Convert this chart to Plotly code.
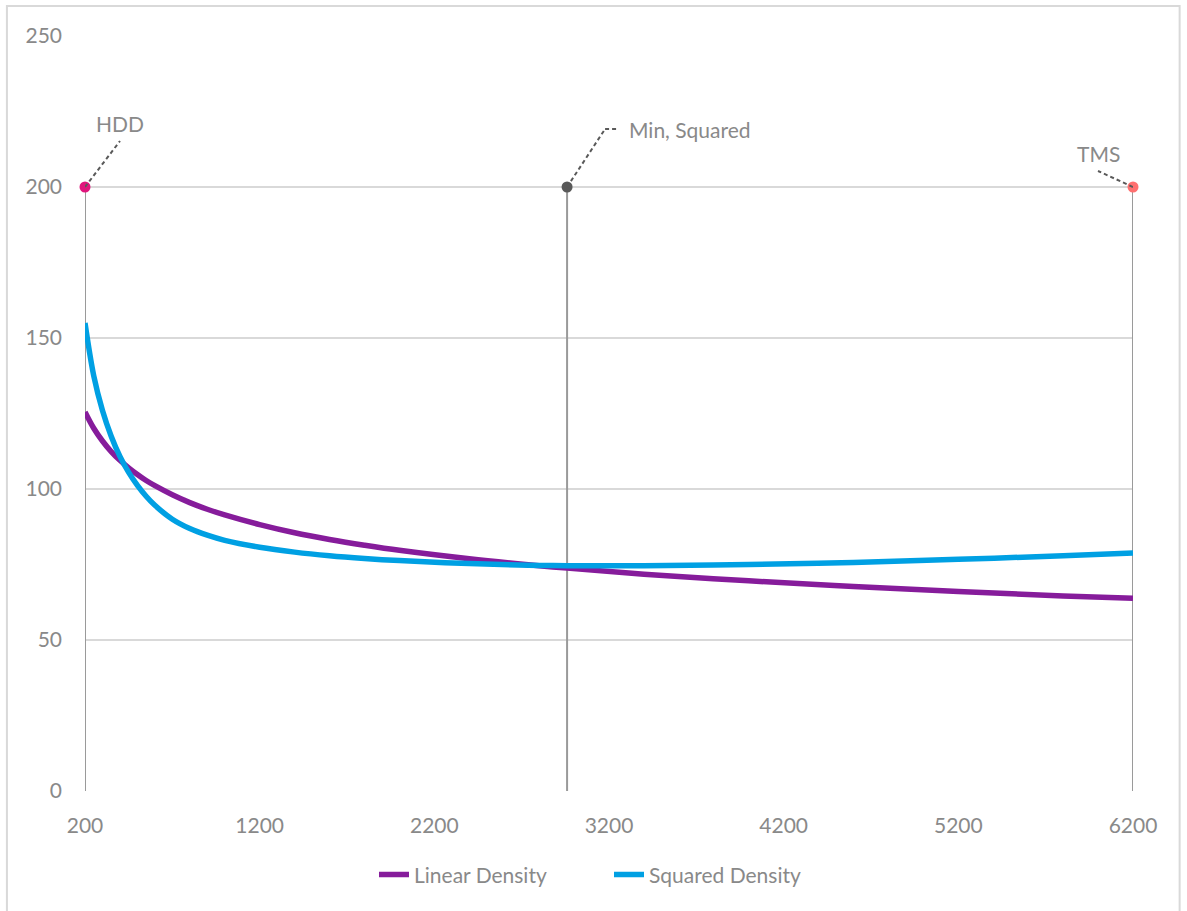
import plotly.graph_objects as go

# Curve samples
x_vals = [200, 250, 300, 350, 400, 450, 500, 550, 600, 700, 800, 900, 1000, 1200,
          1400, 1600, 1800, 2000, 2400, 2800, 2960, 3400, 4000, 4600, 5200, 5800, 6200]
linear_density = [125.5, 120.1, 115.9, 112.4, 109.5, 107.0, 104.8, 102.8, 101.1, 98.1, 95.5, 93.3, 91.4, 88.2,
                  85.5, 83.3, 81.4, 79.7, 76.9, 74.6, 73.8, 71.8, 69.6, 67.7, 66.1, 64.6, 63.8]
squared_density = [155.0, 137.5, 126.0, 117.5, 110.8, 105.5, 101.2, 97.6, 94.6, 90.0, 86.9, 84.7, 83.0, 80.7,
                   79.1, 77.9, 77.0, 76.3, 75.3, 74.7, 74.6, 74.6, 75.0, 75.7, 76.7, 77.9, 78.8]

# Reference markers
ref_names = ["HDD", "Min, Squared", "TMS"]
ref_x = [200, 2960, 6200]
ref_y = [200, 200, 200]
ref_colors = ["#E0157C", "#595959", "#FF7070"]

x_ticks = [200, 1200, 2200, 3200, 4200, 5200, 6200]
y_ticks = [0, 50, 100, 150, 200, 250]

FONT = "Lato"
TXT = "#898989"
FS = 21

fig = go.Figure()

# vertical drop lines from each reference marker to the axis
vx, vy = [], []
for xv, yv in zip(ref_x, ref_y):
    vx += [xv, xv, None]
    vy += [0, yv, None]
fig.add_trace(go.Scatter(x=vx, y=vy, mode="lines", line=dict(color="#9A9A9A", width=2),
                         showlegend=False, hoverinfo="skip", cliponaxis=False))

fig.add_trace(go.Scatter(x=x_vals, y=linear_density, mode="lines", name="Linear Density",
                         line=dict(color="#861C9B", width=5.5, shape="spline", smoothing=1.0)))
fig.add_trace(go.Scatter(x=x_vals, y=squared_density, mode="lines", name="Squared Density",
                         line=dict(color="#00A0E3", width=5.5, shape="spline", smoothing=1.0)))

fig.add_trace(go.Scatter(x=ref_x, y=ref_y, mode="markers",
                         marker=dict(color=ref_colors, size=11),
                         showlegend=False, cliponaxis=False, hoverinfo="skip"))

# dashed leader lines (pixel offsets relative to each marker)
leaders = [
    (0, [(0, 0), (35, 46)]),
    (1, [(0, 0), (38, 58), (50, 58)]),
    (2, [(0, 0), (-35, 16)]),
]
for idx, pts in leaders:
    for (a, b), (c, d) in zip(pts[:-1], pts[1:]):
        fig.add_shape(type="line", xref="x", yref="y",
                      xsizemode="pixel", ysizemode="pixel",
                      xanchor=ref_x[idx], yanchor=ref_y[idx],
                      x0=a, y0=b, x1=c, y1=d,
                      line=dict(color="#595959", width=2, dash="4px,3px"))

label_offsets = [(35, 64, "center"), (60, 58, "left"), (-35, 34, "center")]
for name, xv, yv, (dx, dy, al) in zip(ref_names, ref_x, ref_y, label_offsets):
    fig.add_annotation(x=xv, y=yv, xref="x", yref="y", text=name, showarrow=False,
                       xshift=dx, yshift=dy, xanchor=al, yanchor="middle",
                       font=dict(family=FONT, size=FS, color=TXT))

# outer chart border
fig.add_shape(type="rect", xref="paper", yref="paper",
              x0=-0.0745, x1=1.0445, y0=-0.17, y1=1.0397,
              line=dict(color="#D9D9D9", width=2), layer="below")

fig.update_layout(
    width=1187, height=911,
    margin=dict(l=85, r=54, t=36, b=120),
    paper_bgcolor="white", plot_bgcolor="white",
    font=dict(family=FONT, size=FS, color=TXT),
    showlegend=True,
    legend=dict(orientation="h", x=0.5, xanchor="center", y=-0.111, yanchor="middle",
                font=dict(family=FONT, size=FS, color=TXT), itemwidth=30,
                entrywidth=190, entrywidthmode="pixels", traceorder="normal"),
    hovermode=False,
)
fig.update_xaxes(range=[200, 6200], tickvals=x_ticks, showgrid=False,
                 showline=False, zeroline=False, ticks="", ticklabelstandoff=20,
                 tickfont=dict(family=FONT, size=FS, color=TXT))
fig.update_yaxes(range=[0, 250], tickvals=y_ticks, showgrid=True, gridcolor="#D9D9D9",
                 gridwidth=2, zeroline=False, showline=False, ticks="", ticklabelstandoff=22,
                 tickfont=dict(family=FONT, size=FS, color=TXT))

fig.write_html("out.html")
